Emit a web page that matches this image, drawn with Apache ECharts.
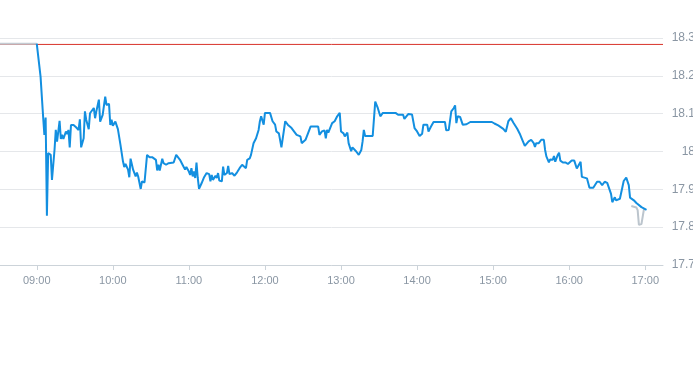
<!DOCTYPE html>
<html><head><meta charset="utf-8">
<script src="https://cdn.jsdelivr.net/npm/echarts@6/dist/echarts.min.js"></script>
<style>html,body{margin:0;padding:0;background:#fff}#c{width:693px;height:365px}</style>
</head><body><div id="c"></div>
<script>
const prevClose = 18.283;
const axisStart = '08:31';
const axisEnd = '17:14';
const hourLabels = ['09:00','10:00','11:00','12:00','13:00','14:00','15:00','16:00','17:00'];
const yMin = 17.7, yMax = 18.3, yStep = 0.1;

const preMarket = [['08:31',18.285],['09:00',18.285]];

const session = [
['09:00',18.285],['09:03',18.198],['09:04',18.145],['09:05',18.093],['09:06',18.044],['09:07',18.09],['09:08',17.83],['09:09',17.996],
['09:11',17.991],['09:12',17.925],['09:14',18.004],['09:15',18.057],['09:16',18.026],['09:17',18.053],['09:18',18.081],['09:19',18.033],
['09:20',18.044],['09:21',18.033],['09:23',18.053],['09:24',18.046],['09:25',18.057],['09:26',18.011],['09:27',18.07],['09:29',18.07],
['09:31',18.064],['09:33',18.057],['09:34',18.085],['09:35',18.011],['09:37',18.035],['09:38',18.106],['09:39',18.084],['09:41',18.059],
['09:42',18.101],['09:43',18.097],['09:45',18.115],['09:46',18.088],['09:47',18.106],['09:49',18.137],['09:50',18.079],['09:52',18.097],
['09:54',18.145],['09:55',18.123],['09:57',18.126],['09:58',18.07],['09:59',18.084],['10:00',18.068],['10:02',18.079],['10:03',18.084],
['10:04',18.059],['10:06',18.018],['10:08',17.974],['10:09',17.959],['10:10',17.967],['10:12',17.952],['10:13',17.932],['10:14',17.981],
['10:16',17.952],['10:17',17.956],['10:18',17.934],['10:19',17.944],['10:20',17.934],['10:22',17.901],['10:23',17.921],['10:25',17.918],
['10:27',17.991],['10:29',17.985],['10:31',17.985],['10:34',17.978],['10:35',17.95],['10:36',17.965],['10:37',17.95],['10:39',17.981],
['10:40',17.969],['10:42',17.965],['10:44',17.969],['10:48',17.971],['10:49',17.969],['10:50',17.991],['10:53',17.978],['10:55',17.965],
['10:57',17.952],['10:58',17.959],['11:00',17.947],['11:01',17.938],['11:02',17.956],['11:03',17.934],['11:04',17.947],['11:05',17.93],
['11:06',17.971],['11:07',17.93],['11:08',17.901],['11:10',17.916],['11:12',17.932],['11:14',17.943],['11:16',17.94],['11:17',17.921],
['11:18',17.938],['11:19',17.925],['11:21',17.936],['11:22',17.93],['11:23',17.943],['11:24',17.923],['11:26',17.921],['11:27',17.96],
['11:28',17.938],['11:30',17.943],['11:31',17.962],['11:32',17.94],['11:34',17.943],['11:36',17.936],['11:38',17.945],['11:40',17.956],
['11:42',17.965],['11:43',17.96],['11:45',17.956],['11:46',17.978],['11:48',17.982],['11:49',17.991],['11:51',18.022],['11:53',18.035],
['11:55',18.057],['11:56',18.08],['11:57',18.093],['11:59',18.071],['12:00',18.102],['12:04',18.102],['12:06',18.08],['12:08',18.071],
['12:09',18.053],['12:11',18.048],['12:13',18.011],['12:16',18.08],['12:18',18.071],['12:21',18.062],['12:25',18.044],['12:28',18.04],
['12:29',18.022],['12:32',18.031],['12:33',18.032],['12:36',18.066],['12:42',18.066],['12:43',18.044],['12:45',18.053],['12:46',18.048],
['12:47',18.056],['12:48',18.035],['12:49',18.057],['12:50',18.05],['12:51',18.053],['12:53',18.075],['12:55',18.08],['12:57',18.093],
['12:59',18.102],['13:00',18.053],['13:02',18.048],['13:03',18.04],['13:05',18.05],['13:06',18.022],['13:08',18.001],['13:09',18.011],
['13:12',18.0],['13:14',17.991],['13:16',18.004],['13:17',18.026],['13:18',18.057],['13:19',18.041],['13:25',18.041],['13:27',18.132],
['13:29',18.115],['13:31',18.093],['13:33',18.102],['13:43',18.102],['13:45',18.097],['13:49',18.097],['13:50',18.086],['13:53',18.099],
['13:56',18.098],['13:58',18.062],['14:00',18.053],['14:02',18.041],['14:04',18.047],['14:05',18.071],['14:08',18.071],['14:09',18.053],
['14:11',18.066],['14:13',18.078],['14:22',18.078],['14:23',18.056],['14:25',18.057],['14:27',18.106],['14:29',18.115],['14:30',18.122],
['14:31',18.075],['14:32',18.093],['14:34',18.091],['14:36',18.071],['14:39',18.072],['14:40',18.077],['14:42',18.078],['14:59',18.078],
['15:00',18.083],['15:01',18.074],['15:04',18.069],['15:08',18.06],['15:10',18.052],['15:12',18.08],['15:14',18.088],['15:16',18.076],
['15:19',18.06],['15:21',18.047],['15:23',18.031],['15:25',18.015],['15:28',18.027],['15:30',18.031],['15:32',18.022],['15:33',18.012],
['15:34',18.022],['15:36',18.022],['15:38',18.031],['15:40',18.031],['15:41',18.004],['15:42',17.987],['15:44',17.971],['15:45',17.979],
['15:47',17.978],['15:48',17.988],['15:49',17.973],['15:51',17.991],['15:52',17.997],['15:53',17.976],['15:55',17.971],['15:57',17.971],
['15:59',17.967],['16:02',17.976],['16:04',17.976],['16:06',17.955],['16:07',17.96],['16:09',17.973],['16:10',17.933],['16:12',17.931],
['16:14',17.929],['16:16',17.904],['16:19',17.904],['16:20',17.906],['16:22',17.92],['16:24',17.92],['16:26',17.911],['16:28',17.92],
['16:30',17.917],['16:31',17.921],['16:33',17.888],['16:34',17.866],['16:36',17.879],['16:37',17.871],['16:38',17.875],['16:40',17.875],
['16:42',17.906],['16:43',17.922],['16:45',17.931],['16:47',17.911],['16:48',17.878],['16:51',17.871],['16:53',17.864],['16:57',17.853],
['17:01',17.846]
];

const afterMarket = [['16:49',17.856],['16:53',17.852],['16:54',17.845],['16:55',17.806],['16:57',17.808],['16:59',17.848]];

function toMin(s){ const p = s.split(':'); return (+p[0]) * 60 + (+p[1]); }
function pad(n){ return (n < 10 ? '0' : '') + n; }
function fmtMin(v){ return pad(Math.floor(v / 60)) + ':' + pad(Math.round(v % 60)); }
function conv(arr){ return arr.map(function(d){ return [toMin(d[0]), d[1]]; }); }

const hourValues = hourLabels.map(toMin);
const labelColor = '#8a96a3';

const chart = echarts.init(document.getElementById('c'), null, {renderer: 'canvas'});
chart.setOption({
  animation: false,
  backgroundColor: '#ffffff',
  grid: { left: 0, right: 30, top: 38, bottom: 100, containLabel: false, outerBoundsMode: 'none' },
  xAxis: {
    type: 'value',
    min: toMin(axisStart),
    max: toMin(axisEnd),
    splitLine: { show: false },
    axisLine: { show: true, lineStyle: { color: '#ccd3d9', width: 1 } },
    axisTick: { show: true, customValues: hourValues, length: 5, lineStyle: { color: '#ccd3d9' } },
    axisLabel: { customValues: hourValues, formatter: fmtMin, color: labelColor, fontSize: 11,
      fontFamily: 'Liberation Sans, Arial, sans-serif', margin: 10 }
  },
  yAxis: {
    type: 'value',
    position: 'right',
    min: yMin, max: yMax, interval: yStep,
    axisLine: { show: false },
    axisTick: { show: false },
    splitLine: { show: true, lineStyle: { color: '#e5e7ea', width: 1 } },
    axisLabel: { color: labelColor, fontSize: 12, align: 'right', margin: 32,
      fontFamily: 'Liberation Sans, Arial, sans-serif' }
  },
  series: [
    {
      type: 'line', silent: true, showSymbol: false, symbol: 'none',
      data: [[toMin(axisStart), prevClose], [toMin(axisEnd), prevClose]],
      lineStyle: { color: '#d8322a', width: 1 }
    },
    {
      type: 'line', data: conv(preMarket), showSymbol: false, symbol: 'none',
      lineStyle: { color: '#c3cbd2', width: 2 }
    },
    {
      type: 'line', data: conv(afterMarket), showSymbol: false, symbol: 'none',
      lineStyle: { color: '#bcc5cd', width: 2 }
    },
    {
      type: 'line', data: conv(session), showSymbol: false, symbol: 'none',
      lineStyle: { color: '#138fe0', width: 2 }
    }
  ]
});
</script>
</body></html>
